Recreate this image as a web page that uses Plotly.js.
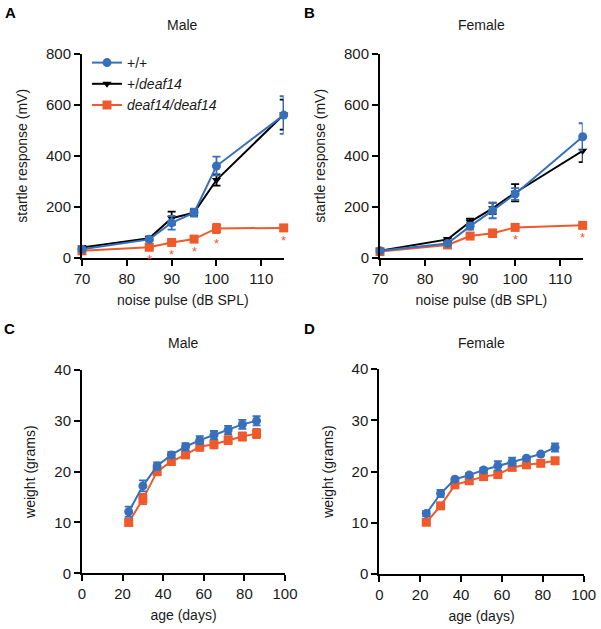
<!DOCTYPE html>
<html>
<head>
<meta charset="utf-8">
<script src="https://cdn.plot.ly/plotly-3.0.1.min.js"></script>
<style>
  body { margin: 0; background: #fff; }
  #chart { width: 601px; height: 629px; }
</style>
</head>
<body>
<div id="chart"></div>
<script>
// startle response vs noise pulse
var noiseDB = [70, 85, 90, 95, 100, 115];

var maleWT = [33, 72, 137, 177, 360, 560];
var maleWTErr = [6, 8, 27, 16, 37, 74];
var maleHet = [40, 76, 155, 177, 305, 562];
var maleHetErr = [6, 8, 26, 12, 22, 59];
var maleHom = [27, 41, 60, 73, 115, 117];
var maleHomErr = [4, 6, 8, 8, 18, 8];
var maleSigDB = [85, 90, 95, 100, 115];

var femaleWT = [27, 56, 124, 185, 250, 475];
var femaleWTErr = [4, 6, 14, 30, 23, 53];
var femaleHet = [27, 72, 141, 194, 255, 420];
var femaleHetErr = [4, 6, 12, 22, 34, 45];
var femaleHom = [24, 50, 85, 96, 119, 127];
var femaleHomErr = [3, 6, 8, 15, 6, 6];
var femaleSigDB = [100, 115];

// body weight vs age
var ageDays = [23, 30, 37, 44, 51, 58, 65, 72, 79, 86];

var maleWtWT = [12.1, 17.2, 21.1, 23.3, 24.9, 26.2, 27.2, 28.2, 29.3, 30.0];
var maleWtWTErr = [1.0, 1.1, 0.7, 0.6, 0.7, 0.8, 0.8, 0.8, 0.9, 0.9];
var maleWtHom = [10.0, 14.6, 20.0, 22.0, 23.3, 24.9, 25.4, 26.2, 26.9, 27.5];
var maleWtHomErr = [0.4, 1.0, 0.5, 0.5, 0.6, 0.8, 0.8, 0.8, 0.8, 0.9];

var femaleWtWT = [11.8, 15.7, 18.5, 19.3, 20.3, 21.1, 21.9, 22.6, 23.4, 24.7];
var femaleWtWTErr = [0.5, 0.7, 0.3, 0.4, 0.4, 0.9, 0.8, 0.3, 0.3, 0.8];
var femaleWtHom = [10.1, 13.3, 17.4, 18.2, 19.0, 19.4, 20.8, 21.3, 21.6, 22.1];
var femaleWtHomErr = [0.4, 0.4, 0.4, 0.3, 0.3, 0.4, 0.3, 0.3, 0.3, 0.3];

var blue = '#3670BD';
var red = '#EE5A2C';
var black = '#000000';
var textCol = '#1a1a1a';
var fontFam = 'Arial, Liberation Sans, sans-serif';

function series(x, y, err, color, symbol, size, name, xa, ya, showLeg) {
  return {
    x: x, y: y, name: name,
    xaxis: xa, yaxis: ya,
    type: 'scatter', mode: 'lines+markers',
    line: {color: color, width: 2},
    marker: {color: color, symbol: symbol, size: size},
    error_y: {type: 'data', array: err, visible: true, color: color, thickness: 1.8, width: 4},
    cliponaxis: false,
    showlegend: showLeg
  };
}

// asterisks under the deaf14/deaf14 points that differ
function stars(sigX, x, y, err, xa, ya) {
  return sigX.map(function(v) {
    var i = x.indexOf(v);
    return {
      text: '*', x: v, y: y[i] - err[i], xref: xa, yref: ya,
      xanchor: 'center', yanchor: 'top', yshift: -1,
      showarrow: false, font: {color: red, size: 13, family: fontFam}
    };
  });
}

var data = [
  series(noiseDB, maleHom, maleHomErr, red, 'square', 9, '<i>deaf14/deaf14</i>', 'x', 'y', true),
  series(noiseDB, maleHet, maleHetErr, black, 'triangle-down', 8, '+/<i>deaf14</i>', 'x', 'y', true),
  series(noiseDB, maleWT, maleWTErr, blue, 'circle', 9, '+/+', 'x', 'y', true),

  series(noiseDB, femaleHom, femaleHomErr, red, 'square', 9, 'hom', 'x2', 'y2', false),
  series(noiseDB, femaleHet, femaleHetErr, black, 'triangle-down', 8, 'het', 'x2', 'y2', false),
  series(noiseDB, femaleWT, femaleWTErr, blue, 'circle', 9, 'wt', 'x2', 'y2', false),

  series(ageDays, maleWtHom, maleWtHomErr, red, 'square', 9, 'hom', 'x3', 'y3', false),
  series(ageDays, maleWtWT, maleWtWTErr, blue, 'circle', 9, 'wt', 'x3', 'y3', false),

  series(ageDays, femaleWtHom, femaleWtHomErr, red, 'square', 9, 'hom', 'x4', 'y4', false),
  series(ageDays, femaleWtWT, femaleWtWTErr, blue, 'circle', 9, 'wt', 'x4', 'y4', false)
];

var W = 601, H = 629;
function px(v) { return v / W; }
function py(v) { return 1 - v / H; }

var tickFont = {family: fontFam, size: 15, color: textCol};
var titleFont = {family: fontFam, size: 14, color: textCol};

function axis(extra) {
  var a = {
    showline: true, linecolor: black, linewidth: 2,
    ticks: 'outside', ticklen: 6, tickwidth: 2, tickcolor: black,
    showgrid: false, zeroline: false, tickfont: tickFont,
    fixedrange: true
  };
  for (var k in extra) a[k] = extra[k];
  return a;
}

function label(text, x, y, font) {
  return {text: text, x: px(x), y: py(y), xref: 'paper', yref: 'paper',
    xanchor: 'center', yanchor: 'middle', showarrow: false, font: font};
}

var letterFont = {family: fontFam, size: 15, color: black};

var notes = [
  label('<b>A</b>', 10, 12, letterFont),
  label('<b>B</b>', 309, 12, letterFont),
  label('<b>C</b>', 9, 328, letterFont),
  label('<b>D</b>', 309, 328, letterFont),
  label('Male', 182, 25, titleFont),
  label('Female', 481, 25, titleFont),
  label('Male', 183, 343, titleFont),
  label('Female', 481, 343, titleFont)
].concat(stars(maleSigDB, noiseDB, maleHom, maleHomErr, 'x', 'y'))
 .concat(stars(femaleSigDB, noiseDB, femaleHom, femaleHomErr, 'x2', 'y2'));

var layout = {
  width: W, height: H,
  margin: {l: 0, r: 0, t: 0, b: 0},
  paper_bgcolor: '#fff', plot_bgcolor: '#fff',
  font: {family: fontFam, color: textCol},
  showlegend: true,
  legend: {
    x: px(87), y: py(47), xanchor: 'left', yanchor: 'top',
    traceorder: 'reversed', bgcolor: 'rgba(0,0,0,0)',
    font: {size: 14, color: textCol}, tracegroupgap: 0
  },
  xaxis: axis({domain: [px(82), px(283.7)], anchor: 'y', range: [70, 115], dtick: 10, tick0: 70,
    title: {text: 'noise pulse (dB SPL)', font: titleFont, standoff: 9}}),
  yaxis: axis({domain: [py(257.7), py(54)], anchor: 'x', range: [0, 800], dtick: 200,
    title: {text: 'startle response (mV)', font: titleFont, standoff: 15}}),
  xaxis2: axis({domain: [px(380), px(582.7)], anchor: 'y2', range: [70, 115], dtick: 10, tick0: 70,
    title: {text: 'noise pulse (dB SPL)', font: titleFont, standoff: 9}}),
  yaxis2: axis({domain: [py(257.7), py(54)], anchor: 'x2', range: [0, 800], dtick: 200,
    title: {text: 'startle response (mV)', font: titleFont, standoff: 15}}),
  xaxis3: axis({domain: [px(82), px(285)], anchor: 'y3', range: [0, 100], dtick: 20,
    title: {text: 'age (days)', font: titleFont, standoff: 9}}),
  yaxis3: axis({domain: [py(573.3), py(370)], anchor: 'x3', range: [0, 40], dtick: 10,
    title: {text: 'weight (grams)', font: titleFont, standoff: 15}}),
  xaxis4: axis({domain: [px(379.3), px(583.7)], anchor: 'y4', range: [0, 100], dtick: 20,
    title: {text: 'age (days)', font: titleFont, standoff: 9}}),
  yaxis4: axis({domain: [py(574), py(369)], anchor: 'x4', range: [0, 40], dtick: 10,
    title: {text: 'weight (grams)', font: titleFont, standoff: 15}}),
  annotations: notes
};

Plotly.newPlot('chart', data, layout, {displayModeBar: false, staticPlot: true});
</script>
</body>
</html>
